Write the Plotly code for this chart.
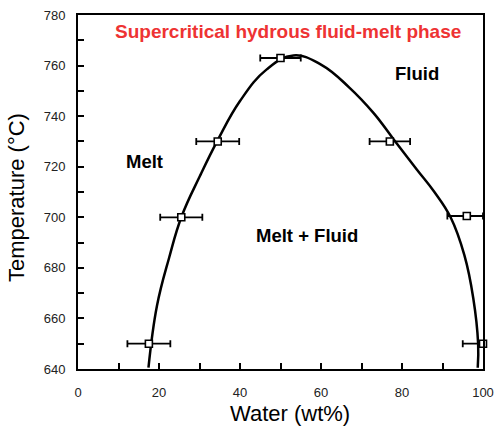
import plotly.graph_objects as go

# Measured phase-boundary points (water content, temperature) with x error
water_pts = [17.5, 25.5, 34.5, 50.0, 77.0, 96.0, 100.0]
temp_pts = [650, 700, 730, 763, 730, 700.5, 650]
err_plus = [5.3, 5.2, 5.3, 5.0, 5.0, 4.0, 0.0]
err_minus = [5.3, 5.2, 5.3, 5.0, 5.0, 4.8, 5.0]

# Solvus curve separating Melt / Fluid from Melt + Fluid
curve_water = [17.4, 19.5, 22.5, 25.6, 30.1, 34.5, 40.0, 46.6, 53.2, 60.0,
               67.0, 73.0, 77.9, 83.6, 88.0, 92.0, 95.4, 97.6, 98.8, 98.7]
curve_temp = [640.5, 665.0, 684.0, 700.4, 716.3, 730.5, 746.0, 758.5, 764.0, 760.4,
              751.3, 741.2, 730.9, 719.0, 710.0, 700.0, 685.0, 668.0, 650.0, 640.5]

FONT = "Arial, Liberation Sans, sans-serif"

fig = go.Figure()

fig.add_trace(go.Scatter(
    x=curve_water, y=curve_temp, mode="lines",
    line=dict(color="black", width=2.5, shape="spline", smoothing=1.2),
    hoverinfo="skip", showlegend=False,
))

fig.add_trace(go.Scatter(
    x=water_pts, y=temp_pts, mode="markers",
    marker=dict(symbol="square", size=7, color="white",
                line=dict(color="black", width=1.6)),
    error_x=dict(type="data", symmetric=False, array=err_plus,
                 arrayminus=err_minus, color="black", thickness=1.8, width=3.5),
    cliponaxis=False, showlegend=False,
))

labels = [
    ("Supercritical hydrous fluid-melt phase", 51.9, 773.6, 19, "#ee3333"),
    ("Fluid", 83.7, 756.7, 18.5, "black"),
    ("Melt", 16.5, 722.0, 18.5, "black"),
    ("Melt + Fluid", 56.5, 692.8, 18.5, "black"),
]
for text, xv, yv, size, color in labels:
    fig.add_annotation(x=xv, y=yv, text=f"<b>{text}</b>", showarrow=False,
                       font=dict(family=FONT, size=size, color=color),
                       xanchor="center", yanchor="middle")

# Axis titles
fig.add_annotation(xref="paper", yref="paper", x=0.523, y=-0.126,
                   text="Water (wt%)", showarrow=False,
                   font=dict(family=FONT, size=22, color="black"),
                   xanchor="center", yanchor="middle")
fig.add_annotation(xref="paper", yref="paper", x=-0.153, y=0.483,
                   text="Temperature (°C)", showarrow=False, textangle=-90,
                   font=dict(family=FONT, size=22, color="black"),
                   xanchor="center", yanchor="middle")

axis_common = dict(
    showline=True, linecolor="black", linewidth=2, mirror=True,
    ticks="inside", ticklen=6, tickwidth=1.6, tickcolor="black",
    showgrid=False, zeroline=False, automargin=False,
    tickfont=dict(family=FONT, size=13, color="#222222"),
)

fig.update_xaxes(
    range=[0, 100], tick0=0, dtick=20,
    minor=dict(dtick=10, ticks="inside", ticklen=6, tickwidth=1.6, tickcolor="black"),
    ticklabelstandoff=10,
    **axis_common,
)
fig.update_yaxes(
    range=[640, 780], tick0=640, dtick=20,
    minor=dict(dtick=10, ticks="inside", ticklen=6, tickwidth=1.6, tickcolor="black"),
    ticklabelstandoff=8,
    **axis_common,
)

fig.update_layout(
    width=498, height=432,
    margin=dict(l=78, r=15, t=15, b=63),
    plot_bgcolor="white", paper_bgcolor="white",
    font=dict(family=FONT),
)

fig.write_html("out.html")
